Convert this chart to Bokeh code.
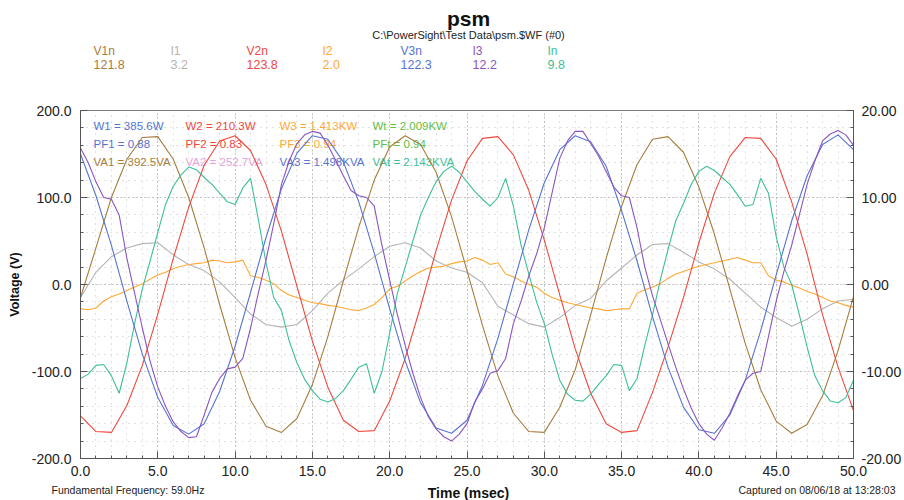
from bokeh.plotting import figure
from bokeh.layouts import column, row
from bokeh.models import Range1d, LinearAxis, Label, SingleIntervalTicker, PrintfTickFormatter
from bokeh.embed import file_html
from bokeh.resources import INLINE
from bokeh.core.properties import value

FONT = "Liberation Sans"

# ---------------- data ----------------
t_ms = [float(i) for i in range(51)]          # 1 ms sampling
t_half = [i * 0.5 for i in range(101)]        # 0.5 ms sampling

# voltages (V, left axis), 1 ms
v1n = [-15, 42, 100, 144, 169, 170, 144, 100, 42, -23, -84, -133, -163, -170, -154, -115, -60, 4, 66, 120,
       158, 171, 161, 129, 78, 16, -47, -105, -148, -169, -170, -141, -98, -35, 30, 90, 138, 167, 170, 152,
       112, 58, -5, -68, -121, -157, -171, -161, -128, -76, -14]
v2n = [-151, -169, -170, -139, -93, -34, 30, 89, 137, 165, 171, 154, 115, 61, -2, -65, -118, -156, -169, -168,
       -134, -85, -25, 39, 97, 142, 168, 170, 149, 108, 51, -12, -74, -125, -160, -170, -168, -124, -72, -15,
       48, 105, 147, 169, 168, 144, 95, 35, -35, -95, -145]
v3n = [150, 102, 45, -19, -80, -130, -162, -172, -160, -123, -71, -9, 54, 110, 151, 171, 167, 141, 95, 36,
       -28, -88, -136, -165, -171, -156, -116, -62, 1, 63, 117, 155, 171, 164, 136, 85, 27, -37, -95, -141,
       -167, -171, -150, -110, -53, 11, 73, 125, 161, 172, 155]

# currents (A, right axis)
i1 = [-1.5, 1.4, 3.2, 4.2, 4.7, 4.8, 3.4, 2.3, 1.6, 0.3, -1.5, -3.4, -4.6, -4.9, -4.6, -3.0, -1.0, 0.5, 1.8, 3.2,
      4.4, 4.8, 4.2, 2.7, 1.9, 1.4, 0.2, -2.5, -3.5, -4.5, -4.9, -3.8, -2.4, -1.6, 0.4, 1.9, 3.4, 4.6, 4.7, 3.7,
      2.6, 1.8, 0.6, -1.0, -2.6, -3.8, -4.8, -4.0, -2.8, -1.9, -1.7]                      # 1 ms
i2 = [-2.8, -2.9, -2.7, -1.9, -1.4, -1.1, -0.7, -0.3, 0.1, 0.6, 1.1, 1.4, 1.8, 2.1, 2.3, 2.4, 2.5, 2.8, 2.7, 2.5,
      2.6, 2.8, 1.0, 0.8, 0.5, 0.1, -0.7, -1.2, -1.5, -1.8, -2.1, -2.2, -2.4, -2.5, -2.7, -2.9, -3.0, -2.7, -2.3,
      -1.5, -0.5, -0.2, 0.4, 1.0, 1.5, 1.9, 2.0, 2.1, 2.4, 2.6, 2.7, 3.1, 2.8, 2.3, 2.5, 1.2, 0.9, 0.4, 0.0, -0.3,
      -1.0, -1.5, -1.8, -2.1, -2.3, -2.5, -2.7, -2.8, -3.0, -2.9, -2.8, -2.8, -1.0, -0.6, -0.3, 0.1, 0.7, 1.2, 1.5,
      1.8, 2.1, 2.3, 2.5, 2.7, 2.9, 3.1, 2.8, 2.5, 2.5, 1.0, 0.5, 0.3, -0.1, -0.4, -0.8, -1.1, -1.5, -1.9, -2.1,
      -2.4, -2.6]                                                                           # 0.5 ms
i3 = [15.7, 14.0, 11.8, 10.0, 9.8, 8.0, 3.0, -1.0, -5.0, -8.8, -11.8, -14.0, -15.8, -16.9, -17.6, -17.5, -15.0,
      -12.4, -10.8, -9.7, -9.5, -8.5, -5.0, -1.0, 2.8, 7.0, 11.5, 14.2, 16.2, 17.2, 17.6, 17.4, 16.0, 14.3, 12.5,
      10.8, 10.2, 10.0, 9.0, 4.5, 0.5, -3.5, -7.0, -10.2, -13.0, -15.2, -16.6, -17.5, -18.0, -17.2, -16.0, -13.5,
      -12.0, -10.2, -9.9, -8.5, -4.5, -1.9, 1.0, 3.5, 6.5, 10.5, 14.5, 16.5, 17.6, 17.6, 16.2, 14.8, 13.0, 11.2,
      10.2, 10.0, 6.5, 2.0, -1.3, -4.0, -6.8, -9.5, -12.0, -14.2, -16.0, -17.2, -17.9, -16.5, -14.8, -12.8, -11.0,
      -10.2, -10.0, -6.0, -1.9, 1.5, 4.5, 8.0, 11.5, 14.2, 16.5, 17.3, 17.7, 17.2, 16.0]      # 0.5 ms
i_n = [-10.8, -10.3, -9.3, -9.2, -10.5, -12.5, -9.0, -4.5, -0.5, 2.7, 6.0, 9.2, 11.3, 12.6, 13.5, 13.2, 12.3, 11.5,
       10.5, 9.5, 9.2, 11.1, 12.2, 7.5, 2.5, -1.5, -3.0, -6.5, -9.0, -10.9, -12.2, -13.2, -13.5, -13.1, -12.2, -10.9,
       -9.5, -9.1, -12.5, -10.0, -5.6, -1.0, 2.0, 5.0, 8.0, 10.0, 11.8, 13.0, 13.6, 12.9, 11.8, 10.7, 9.8, 9.0,
       10.0, 12.2, 9.0, 4.5, 1.2, -2.0, -4.5, -8.0, -11.0, -12.6, -13.3, -13.4, -12.6, -11.5, -10.5, -9.2, -9.3,
       -12.2, -10.8, -7.0, -3.5, 0.5, 4.0, 7.3, 9.3, 11.5, 13.0, 13.6, 13.1, 12.3, 11.5, 10.3, 9.0, 9.2, 12.2,
       10.5, 5.5, 2.0, 0.0, -3.5, -7.2, -10.5, -12.2, -13.4, -13.6, -13.0, -11.0]               # 0.5 ms

title_text = "psm"
subtitle_text = "C:\\PowerSight\\Test Data\\psm.$WF (#0)"
hdr_names = ["V1n", "I1", "V2n", "I2", "V3n", "I3", "In"]
hdr_values = ["121.8", "3.2", "123.8", "2.0", "122.3", "12.2", "9.8"]

stats_rows = [
    ["W1 = 385.6W", "W2 = 210.3W", "W3 = 1.413KW", "Wt = 2.009KW"],
    ["PF1 = 0.88", "PF2 = 0.83", "PF3 = 0.94", "PFt = 0.94"],
    ["VA1 = 392.5VA", "VA2 = 252.7VA", "VA3 = 1.498KVA", "VAt = 2.143KVA"],
]
footer_left = "Fundamental Frequency: 59.0Hz"
footer_right = "Captured on 08/06/18 at 13:28:03"
x_title = "Time (msec)"
y_title = "Voltage (V)"

BROWN = "#a67d3d"
GRAY = "#b4b4b4"
RED = "#f0483c"
ORANGE = "#ffa836"
BLUE = "#5574d2"
PURPLE = "#8b55c0"
TEAL = "#3dbf98"
GREEN = "#62c044"
PINK = "#e5a3dc"

hdr_colors = [BROWN, GRAY, RED, ORANGE, BLUE, PURPLE, TEAL]
stats_colors = [
    [BLUE, RED, ORANGE, GREEN],
    [BLUE, RED, ORANGE, GREEN],
    [BROWN, PINK, BLUE, TEAL],
]

# ---------------- layout geometry (page pixels) ----------------
W = 904
TOP_H = 78
FRAME_L, FRAME_R, FRAME_T, FRAME_B = 80, 855, 110, 458
MAIN_BOT_BORDER = 26
MAIN_H = (FRAME_T - TOP_H) + (FRAME_B - FRAME_T) + MAIN_BOT_BORDER
BOT_Y0 = TOP_H + MAIN_H
BOT_H = 500 - BOT_Y0


def text_panel(height, y0):
    f = figure(width=W, height=height, output_backend="svg", toolbar_location=None, title=None,
               x_range=Range1d(0, W), y_range=Range1d(y0 + height, y0),
               x_axis_location=None, y_axis_location=None,
               min_border=0, min_border_left=0, min_border_right=0, min_border_top=0, min_border_bottom=0)
    f.outline_line_color = None
    f.grid.visible = False
    f.background_fill_color = "white"
    f.border_fill_color = "white"
    return f


def txt(f, x, y, text, color, size, bold=False, align="left"):
    f.text(x=[x], y=[y], text=[text], text_color=color, text_font=value(FONT),
           text_font_size=size, text_font_style="bold" if bold else "normal",
           text_align=align, text_baseline="middle")


# ---- header ----
top = text_panel(TOP_H, 0)
txt(top, 468, 18, title_text, "#111111", "21px", bold=True, align="center")
txt(top, 468, 34, subtitle_text, "#222222", "11px", align="center")
hdr_x = [93, 170, 246, 322, 400, 472, 547]
for k in range(len(hdr_names)):
    txt(top, hdr_x[k], 50.5, hdr_names[k], hdr_colors[k], "12px")
    txt(top, hdr_x[k], 64, hdr_values[k], hdr_colors[k], "12.5px")

# ---- main chart ----
p = figure(width=W, height=MAIN_H, output_backend="svg", toolbar_location=None, title=None,
           x_range=Range1d(0, 50), y_range=Range1d(-200, 200),
           min_border_left=FRAME_L, min_border_right=W - FRAME_R,
           min_border_top=FRAME_T - TOP_H, min_border_bottom=MAIN_BOT_BORDER)
p.background_fill_color = "white"
p.border_fill_color = "white"
p.outline_line_color = "#7a7a7a"

xax = p.xaxis[0]
lax = p.yaxis[0]
xt = SingleIntervalTicker(interval=5, num_minor_ticks=5)
yt = SingleIntervalTicker(interval=100, num_minor_ticks=5)
xax.ticker = xt
lax.ticker = yt
p.xgrid.ticker = xt
p.ygrid.ticker = yt
xax.formatter = PrintfTickFormatter(format="%.1f")
lax.formatter = PrintfTickFormatter(format="%.1f")

p.extra_y_ranges = {"amps": Range1d(-20, 20)}
rax = LinearAxis(y_range_name="amps", ticker=SingleIntervalTicker(interval=10, num_minor_ticks=5),
                 formatter=PrintfTickFormatter(format="%.2f"))
p.add_layout(rax, "right")

for ax in [xax, lax, rax]:
    ax.axis_line_color = "#555555"
    ax.major_tick_line_color = "#555555"
    ax.minor_tick_line_color = "#555555"
    ax.major_tick_in = 7
    ax.major_tick_out = 0
    ax.minor_tick_in = 3
    ax.minor_tick_out = 0
    ax.major_label_text_font = FONT
    ax.major_label_text_font_size = "14px"
    ax.major_label_text_color = "#222222"
xax.major_label_standoff = 7
lax.major_label_standoff = 9
rax.major_label_standoff = 8

lax.axis_label = y_title
lax.axis_label_text_font = FONT
lax.axis_label_text_font_size = "12.5px"
lax.axis_label_text_font_style = "bold"
lax.axis_label_text_color = "#111111"
lax.axis_label_standoff = 7

for g in [p.xgrid[0], p.ygrid[0]]:
    g.grid_line_color = "#9a9a9a"
    g.grid_line_dash = "1 3"
    g.minor_grid_line_color = "#c4c4c4"
    g.minor_grid_line_dash = "1 5"

# statistics block inside the plot area (drawn beneath the traces)
col_x = [93, 185, 279, 372]
row_y = [125.7, 143.3, 161.7]
for r, rw in enumerate(stats_rows):
    for c, s in enumerate(rw):
        p.add_layout(Label(x=col_x[c] - FRAME_L, y=FRAME_B - row_y[r], x_units="screen", y_units="screen",
                           text=s, text_color=stats_colors[r][c], text_font=FONT, text_font_size="11.5px",
                           text_baseline="middle", level="underlay"))

lw = 1.1
p.line(t_ms, i1, y_range_name="amps", color=GRAY, line_width=lw)
p.line(t_half, i2, y_range_name="amps", color=ORANGE, line_width=lw)
p.line(t_ms, v1n, color=BROWN, line_width=lw)
p.line(t_ms, v2n, color=RED, line_width=lw)
p.line(t_half, i_n, y_range_name="amps", color=TEAL, line_width=lw)
p.line(t_ms, v3n, color=BLUE, line_width=lw)
p.line(t_half, i3, y_range_name="amps", color=PURPLE, line_width=lw)

# ---- footer ----
bot = text_panel(BOT_H, BOT_Y0)
txt(bot, 51, 489, footer_left, "#222222", "10.5px")
txt(bot, 895, 489, footer_right, "#222222", "10.5px", align="right")
txt(bot, 468, 492.5, x_title, "#111111", "14px", bold=True, align="center")

layout = column(column(top), p, row(bot), spacing=0)
open("out.html", "w").write(file_html(layout, INLINE))
